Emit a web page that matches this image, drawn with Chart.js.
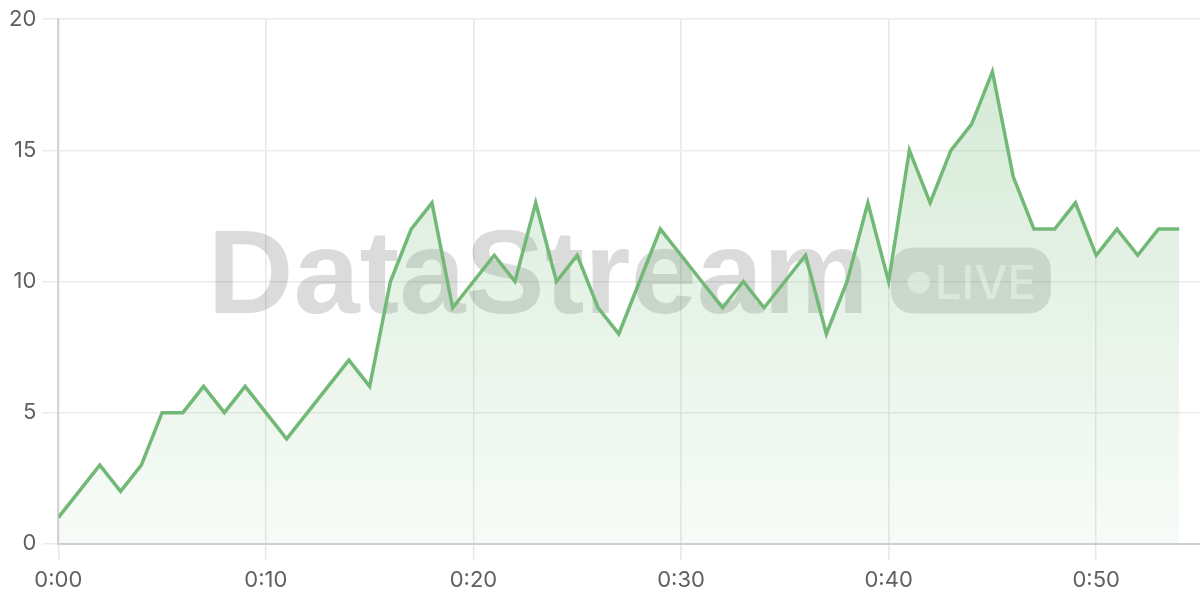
<!DOCTYPE html>
<html>
<head>
<meta charset="utf-8">
<script src="https://cdn.jsdelivr.net/npm/chart.js@4/dist/chart.umd.min.js"></script>
<style>
  html, body { margin: 0; padding: 0; background: #fff; }
  #wrap { width: 1200px; height: 600px; }
</style>
</head>
<body>
<div id="wrap"><canvas id="chart"></canvas></div>
<script>
// minutes since start
const minutes = [0,1,2,3,4,5,6,7,8,9,10,11,12,13,14,15,16,17,18,19,20,21,22,23,24,25,26,27,
  28,29,30,31,32,33,34,35,36,37,38,39,40,41,42,43,44,45,46,47,48,49,50,51,52,53,54];
const values = [1,2,3,2,3,5,5,6,5,6,5,4,5,6,7,6,10,12,13,9,10,11,10,13,10,11,9,8,
  10,12,11,10,9,10,9,10,11,8,10,13,10,15,13,15,16,18,14,12,12,13,11,12,11,12,12];
const xTicks = [0, 10, 20, 30, 40, 50];
const yTicks = [0, 5, 10, 15, 20];

const points = minutes.map((m, i) => ({ x: m, y: values[i] }));

// watermark behind the line
const watermark = {
  id: 'watermark',
  beforeDatasetsDraw(chart) {
    const { ctx, chartArea } = chart;
    const cx = (chartArea.left + chartArea.right) / 2;
    const cy = (chartArea.top + chartArea.bottom) / 2;
    ctx.save();
    ctx.font = 'bold 119px "Liberation Sans", Arial, sans-serif';
    const txtW = ctx.measureText('DataStream').width;
    const pillW = 160, pillH = 66, gap = 22;
    const total = txtW + gap + pillW;
    const x0 = cx - total / 2;
    ctx.fillStyle = 'rgba(0,0,0,0.14)';
    ctx.textBaseline = 'alphabetic';
    ctx.fillText('DataStream', x0, cy + 31);

    const px = x0 + txtW + gap, py = cy - 34;
    ctx.beginPath();
    ctx.roundRect(px, py, pillW, pillH, 22);
    ctx.fillStyle = 'rgba(0,0,0,0.13)';
    ctx.fill();
    ctx.fillStyle = 'rgba(255,255,255,0.6)';
    ctx.beginPath();
    ctx.arc(px + 28, py + 35, 11, 0, Math.PI * 2);
    ctx.fill();
    ctx.font = '500 47px Inter, "Liberation Sans", sans-serif';
    ctx.fillText('LIVE', px + 44, py + 51);
    ctx.restore();
  }
};

new Chart(document.getElementById('chart'), {
  type: 'line',
  data: {
    datasets: [{
      data: points,
      borderColor: '#72b977',
      borderWidth: 3.5,
      pointRadius: 0,
      tension: 0,
      fill: 'origin',
      backgroundColor: (c) => {
        const area = c.chart.chartArea;
        if (!area) return 'rgba(114,185,119,0.15)';
        const g = c.chart.ctx.createLinearGradient(0, area.top, 0, area.bottom);
        g.addColorStop(0, 'rgba(114,185,119,0.32)');
        g.addColorStop(1, 'rgba(114,185,119,0.05)');
        return g;
      }
    }]
  },
  options: {
    responsive: true,
    maintainAspectRatio: false,
    animation: false,
    layout: { padding: { top: 7, left: 3, right: 0, bottom: 0 } },
    plugins: { legend: { display: false }, tooltip: { enabled: false } },
    scales: {
      x: {
        type: 'linear',
        min: 0,
        max: 55,
        afterBuildTicks: (s) => { s.ticks = xTicks.map(v => ({ value: v })); },
        ticks: {
          color: '#606060',
          font: { family: 'Inter, "Noto Sans", sans-serif', size: 22, lineHeight: 1.1 },
          padding: 8,
          callback: (v) => '0:' + String(v).padStart(2, '0')
        },
        grid: { color: '#e8e8e8', lineWidth: 1.5, tickLength: 16 },
        border: { color: '#cfcfcf', width: 2 }
      },
      y: {
        min: 0,
        max: 20,
        afterBuildTicks: (s) => { s.ticks = yTicks.map(v => ({ value: v })); },
        ticks: {
          color: '#606060',
          font: { family: 'Inter, "Noto Sans", sans-serif', size: 22 },
          padding: 6
        },
        grid: { color: '#ebebeb', lineWidth: 1.5, tickLength: 16 },
        border: { color: '#d4d4d4', width: 2 }
      }
    }
  },
  plugins: [watermark]
});
</script>
</body>
</html>
